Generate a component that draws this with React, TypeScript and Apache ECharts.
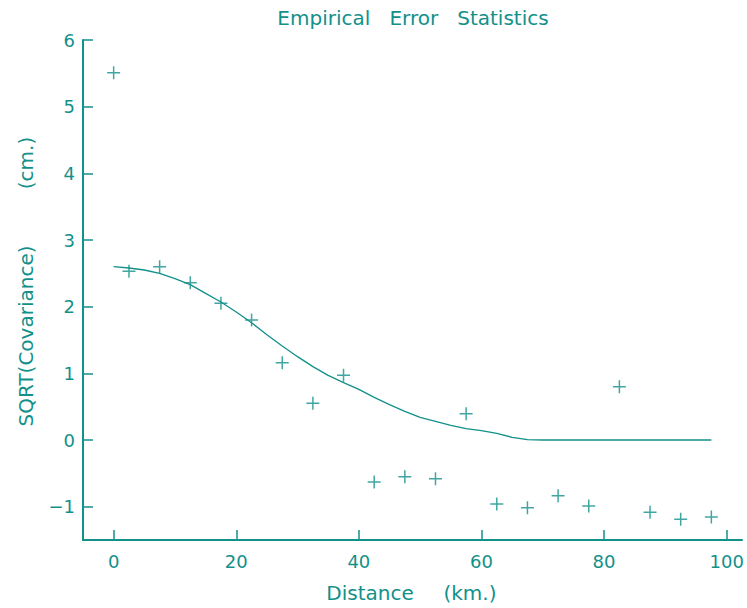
import React, { useEffect, useRef } from "react";
import * as echarts from "echarts";

const TEAL = "#12908a";
const FONT = "'DejaVu Sans', sans-serif";

const obsX = [0, 2.5, 7.5, 12.5, 17.5, 22.5, 27.5, 32.5, 37.5, 42.5, 47.5, 52.5, 57.5, 62.5, 67.5, 72.5, 77.5, 82.5, 87.5, 92.5, 97.5];
const obsY = [5.51, 2.53, 2.6, 2.36, 2.05, 1.8, 1.16, 0.55, 0.97, -0.63, -0.55, -0.58, 0.395, -0.96, -1.015, -0.835, -0.99, 0.8, -1.085, -1.19, -1.155];

const fitX = [0, 2.5, 5, 7.5, 10, 12.5, 15, 17.5, 20, 22.5, 25, 27.5, 30, 32.5, 35, 37.5, 40, 42.5, 45, 47.5, 50, 52.5, 55, 57.5, 60, 62.5, 65, 67.5, 70, 72.5, 75, 80, 85, 90, 95, 97.5];
const fitY = [2.6, 2.58, 2.55, 2.5, 2.42, 2.33, 2.2, 2.07, 1.92, 1.76, 1.58, 1.41, 1.25, 1.1, 0.97, 0.86, 0.76, 0.64, 0.53, 0.43, 0.34, 0.28, 0.22, 0.17, 0.14, 0.1, 0.04, 0.005, 0.0, 0.0, 0.0, 0.0, 0.0, 0.0, 0.0, 0.0];

const xTicks = [0, 20, 40, 60, 80, 100];
const yTicks = [-1, 0, 1, 2, 3, 4, 5, 6];

const titleText = "Empirical   Error   Statistics";
const xName = "Distance";
const xUnit = "(km.)";
const yName = "SQRT(Covariance)";
const yUnit = "(cm.)";

export default function App() {
  const ref = useRef<HTMLDivElement>(null);
  useEffect(() => {
    document.body.style.margin = "0";
    const chart = echarts.init(ref.current!, null, { renderer: "svg" });
    const textStyle = { fontFamily: FONT, fontSize: 18, color: TEAL };
    const bigFont = `20px ${FONT}`;
    chart.setOption({
      animation: false,
      backgroundColor: "#ffffff",
      grid: { left: 83, right: 5, top: 40, bottom: 68, containLabel: false },
      xAxis: {
        type: "value",
        min: -5,
        max: 102.5,
        axisLine: { show: true, onZero: false, lineStyle: { color: TEAL, width: 2 } },
        axisTick: { show: true, inside: true, length: 10, customValues: xTicks, lineStyle: { color: TEAL, width: 1.5 } },
        axisLabel: { customValues: xTicks, margin: 12, ...textStyle },
        splitLine: { show: false },
      },
      yAxis: {
        type: "value",
        min: -1.5,
        max: 6,
        axisLine: { show: true, onZero: false, lineStyle: { color: TEAL, width: 2 } },
        axisTick: { show: true, inside: true, length: 10, customValues: yTicks, lineStyle: { color: TEAL, width: 1.5 } },
        axisLabel: {
          customValues: yTicks,
          margin: 8,
          ...textStyle,
          formatter: (v: number) => (v < 0 ? "\u2212" + Math.abs(v) : String(v)),
        },
        splitLine: { show: false },
      },
      graphic: [
        { type: "text", x: 413, y: 17.5, style: { text: titleText, align: "center", verticalAlign: "middle", font: bigFont, fill: TEAL } },
        { type: "text", x: 370, y: 593, style: { text: xName, align: "center", verticalAlign: "middle", font: bigFont, fill: TEAL } },
        { type: "text", x: 470, y: 593, style: { text: xUnit, align: "center", verticalAlign: "middle", font: bigFont, fill: TEAL } },
        { type: "text", x: 26, y: 336, rotation: Math.PI / 2, style: { text: yName, align: "center", verticalAlign: "middle", font: bigFont, fill: TEAL } },
        { type: "text", x: 26, y: 163, rotation: Math.PI / 2, style: { text: yUnit, align: "center", verticalAlign: "middle", font: bigFont, fill: TEAL } },
      ],
      series: [
        {
          type: "line",
          data: fitX.map((x, i) => [x, fitY[i]]),
          showSymbol: false,
          symbol: "none",
          lineStyle: { color: TEAL, width: 1.3 },
          z: 2,
        },
        {
          type: "scatter",
          data: obsX.map((x, i) => [x, obsY[i]]),
          symbol: "path://M0,6H12M6,0V12",
          symbolSize: 13,
          itemStyle: { color: "none", borderColor: TEAL, borderWidth: 1.5 },
          z: 3,
        },
      ],
    });
    return () => chart.dispose();
  }, []);
  return <div ref={ref} style={{ width: 747, height: 608 }} />;
}
